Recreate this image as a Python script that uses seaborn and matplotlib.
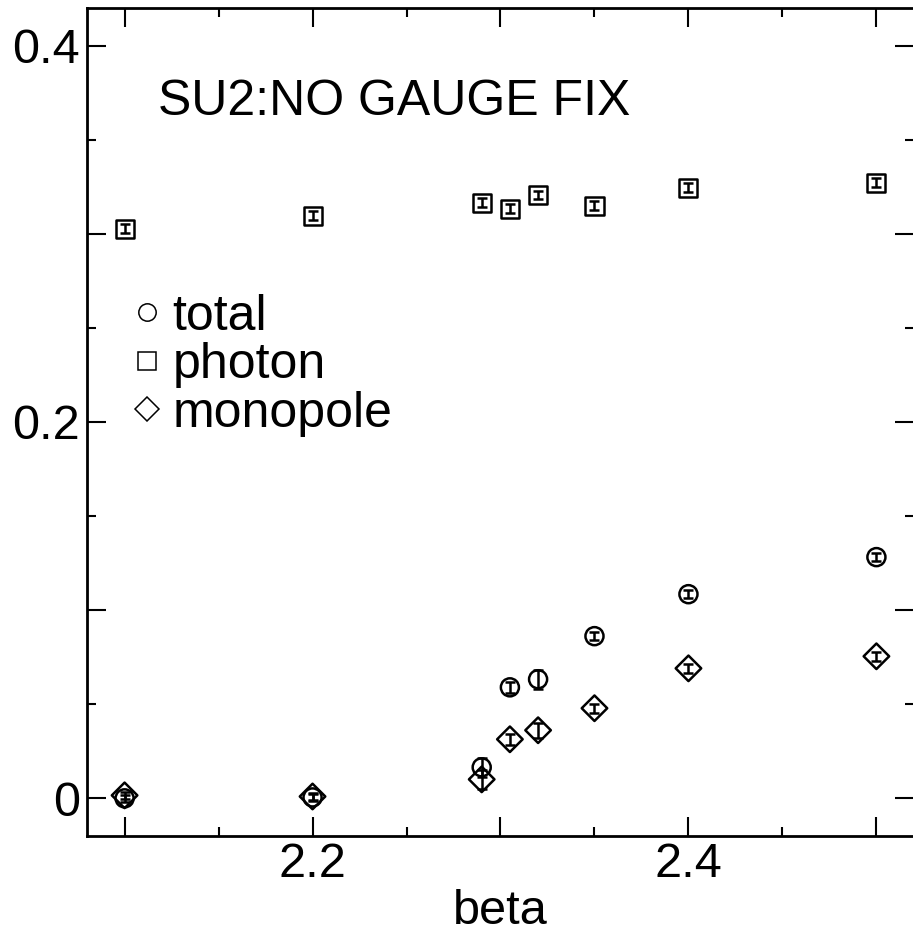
import matplotlib
matplotlib.use('Agg')
import matplotlib.pyplot as plt
from matplotlib.lines import Line2D
from matplotlib.ticker import MultipleLocator, FuncFormatter
import pandas as pd
import seaborn as sns

# dados
beta = [2.1, 2.2, 2.29, 2.305, 2.32, 2.35, 2.4, 2.5]
total = [0.0, 0.0005, 0.0165, 0.0590, 0.0633, 0.0862, 0.1085, 0.1282]
total_err = [0.002, 0.002, 0.005, 0.003, 0.005, 0.002, 0.002, 0.002]
photon = [0.3027, 0.3096, 0.3165, 0.3133, 0.3207, 0.3149, 0.3245, 0.3271]
photon_err = [0.0023, 0.0023, 0.0023, 0.0023, 0.0023, 0.0023, 0.0023, 0.0023]
monopole = [0.0016, 0.001, 0.0101, 0.0314, 0.0362, 0.0479, 0.0691, 0.0755]
monopole_err = [0.002, 0.002, 0.005, 0.003, 0.004, 0.0025, 0.0025, 0.0025]

series = ['total', 'photon', 'monopole']
marcadores = {'total': 'o', 'photon': 's', 'monopole': 'D'}

df = pd.concat([
    pd.DataFrame({'beta': beta, 'valor': total, 'erro': total_err, 'serie': 'total'}),
    pd.DataFrame({'beta': beta, 'valor': photon, 'erro': photon_err, 'serie': 'photon'}),
    pd.DataFrame({'beta': beta, 'valor': monopole, 'erro': monopole_err, 'serie': 'monopole'}),
], ignore_index=True)

sns.set_style('ticks')
plt.rcParams['font.family'] = ['Liberation Sans', 'DejaVu Sans']
for k in ['text.color', 'axes.labelcolor', 'xtick.color', 'ytick.color', 'axes.edgecolor']:
    plt.rcParams[k] = 'black'

fig = plt.figure(figsize=(9.13, 9.40), dpi=100)
ax = fig.add_axes([87 / 913, 1 - 836 / 940, 827 / 913, 828 / 940])

# barras de erro
ax.errorbar(df['beta'], df['valor'], yerr=df['erro'], fmt='none',
            ecolor='black', elinewidth=1.8, capsize=3.5, capthick=1.8, zorder=2)

# marcadores vazios
sns.scatterplot(data=df, x='beta', y='valor', style='serie', markers=marcadores,
                s=169, facecolor='none', edgecolor='black', linewidth=1.8,
                legend=False, ax=ax, zorder=3)

ax.set_xlim(2.08, 2.52)
ax.set_ylim(-0.02, 0.42)

ax.xaxis.set_major_locator(MultipleLocator(0.1))
ax.xaxis.set_minor_locator(MultipleLocator(0.05))
ax.yaxis.set_major_locator(MultipleLocator(0.1))
ax.yaxis.set_minor_locator(MultipleLocator(0.05))

rotulos_x = {2.2: '2.2', 2.4: '2.4'}
rotulos_y = {0.0: '0', 0.2: '0.2', 0.4: '0.4'}
ax.xaxis.set_major_formatter(FuncFormatter(lambda v, p: rotulos_x.get(round(v, 2), '')))
ax.yaxis.set_major_formatter(FuncFormatter(lambda v, p: rotulos_y.get(round(v, 2), '')))

ax.tick_params(which='both', direction='in', top=True, right=True, width=1.5, labelsize=35)
ax.tick_params(which='major', length=14)
ax.tick_params(which='minor', length=6.5)
ax.tick_params(axis='x', pad=4)
ax.tick_params(axis='y', pad=5)
for s in ax.spines.values():
    s.set_linewidth(2)

ax.set_xlabel('beta', fontsize=35, labelpad=2)
ax.set_ylabel('')

ax.text((158 - 87) / 827, (836 - 115) / 828, 'SU2:NO GAUGE FIX', transform=ax.transAxes,
        fontsize=36, va='baseline', ha='left')

# legenda sem moldura
handles = [Line2D([], [], linestyle='none', marker=marcadores[n], markersize=12.5,
                  markerfacecolor='none', markeredgecolor='black', markeredgewidth=1.1)
           for n in series]
ax.legend(handles, series, loc='upper left', bbox_to_anchor=(0.058, 0.655), frameon=False,
          fontsize=36, handlelength=0.5, handletextpad=0.25, labelspacing=0.05,
          borderpad=0, borderaxespad=0)

plt.savefig('out.png', dpi=100)
